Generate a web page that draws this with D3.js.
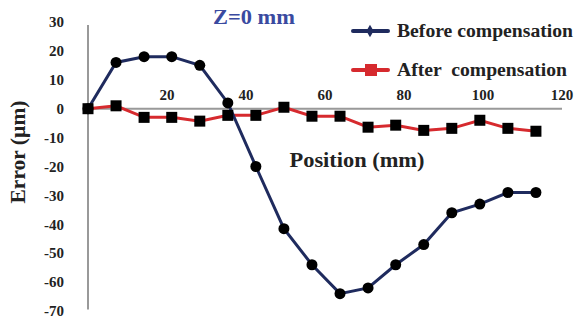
<!DOCTYPE html>
<body style="margin:0;background:#fff">
  <svg width="577" height="320" id="chart"></svg>
  <script src="https://d3js.org/d3.v7.min.js"></script>
  <script>

const position = [0, 7.1, 14.2, 21.2, 28.3, 35.4, 42.5, 49.6, 56.7, 63.8, 70.9, 77.9, 85, 92.1, 99.2, 106.3, 113.4]
const before = [0, 16, 18, 18, 15, 2, -20, -41.5, -54, -64, -62, -54, -47, -36, -33, -29, -29]
const after = [0, 1, -3, -3, -4.3, -2.3, -2.3, 0.5, -2.6, -2.6, -6.4, -5.7, -7.5, -6.8, -4, -6.8, -7.8]
const xTicks = [20, 40, 60, 80, 100, 120]
const yTicks = [30, 20, 10, 0, -10, -20, -30, -40, -50, -60, -70]

const font = '"Liberation Serif", "Times New Roman", serif'
const svg = d3.select('#chart').style('font-family', font).style('font-weight', 'bold')

let x = d3.scaleLinear().domain([0, 120]).range([88, 562])
let y = d3.scaleLinear().domain([-70, 30]).range([311, 22])

// axes
svg.append('line').attr('x1', x(0)).attr('x2', x(0)).attr('y1', y(29)).attr('y2', y(-69.5))
  .attr('stroke', '#999').attr('stroke-width', 2)
svg.append('line').attr('x1', x(0)).attr('x2', x(120)).attr('y1', y(0)).attr('y2', y(0))
  .attr('stroke', '#999').attr('stroke-width', 2)

svg.append('g').selectAll('text').data(yTicks).enter().append('text')
  .attr('x', 64).attr('y', d => y(d)).attr('dy', '0.35em')
  .attr('text-anchor', 'end').attr('font-size', 15).attr('fill', '#222')
  .text(d => d)

svg.append('g').selectAll('text').data(xTicks).enter().append('text')
  .attr('x', d => x(d)).attr('y', y(0) - 14).attr('dy', '0.35em')
  .attr('text-anchor', 'middle').attr('font-size', 15).attr('fill', '#222')
  .text(d => d)

// text widths stretched to match the original's wide lettering
function label(t, px, py, size, len, anchor) {
  return svg.append('text').attr('x', px).attr('y', py).attr('dy', '0.35em')
    .attr('text-anchor', anchor || 'start').attr('font-size', size).attr('fill', '#222')
    .attr('textLength', len).attr('lengthAdjust', 'spacingAndGlyphs')
    .style('white-space', 'pre').text(t)
}

label('Error (µm)', 0, 0, 20, 103, 'middle').attr('transform', 'translate(18,152) rotate(-90)')
label('Position (mm)', 357, 160, 20, 135, 'middle')
label('Z=0 mm', 254, 17, 20, 82, 'middle').attr('fill', '#3a4aa0')

let line = d3.line().x(d => x(d[0])).y(d => y(d[1]))

svg.append('path').datum(position.map((p, i) => [p, after[i]]))
  .attr('d', line).attr('fill', 'none').attr('stroke', '#d62a2e').attr('stroke-width', 3)
svg.append('path').datum(position.map((p, i) => [p, before[i]]))
  .attr('d', line).attr('fill', 'none').attr('stroke', '#1f2b5e').attr('stroke-width', 3)

svg.append('g').selectAll('rect').data(position.map((p, i) => [p, after[i]])).enter().append('rect')
  .attr('x', d => x(d[0]) - 5.5).attr('y', d => y(d[1]) - 5.5)
  .attr('width', 11).attr('height', 11).attr('fill', '#000')

svg.append('g').selectAll('circle').data(position.map((p, i) => [p, before[i]])).enter().append('circle')
  .attr('cx', d => x(d[0])).attr('cy', d => y(d[1])).attr('r', 5.5).attr('fill', '#000')

// legend
svg.append('line').attr('x1', 353).attr('x2', 388).attr('y1', 31).attr('y2', 31)
  .attr('stroke', '#1f2b5e').attr('stroke-width', 4).attr('stroke-linecap', 'round')
svg.append('path').attr('d', d3.symbol(d3.symbolDiamond, 45)()).attr('transform', 'translate(370,31)')
  .attr('fill', '#1f2b5e')
label('Before compensation', 397, 31, 18, 176)

svg.append('line').attr('x1', 353).attr('x2', 388).attr('y1', 70).attr('y2', 70)
  .attr('stroke', '#d62a2e').attr('stroke-width', 4).attr('stroke-linecap', 'round')
svg.append('rect').attr('x', 365).attr('y', 64).attr('width', 12).attr('height', 12).attr('fill', '#d62a2e')
label('After  compensation', 397, 70, 18, 170)

  </script>
</body>
